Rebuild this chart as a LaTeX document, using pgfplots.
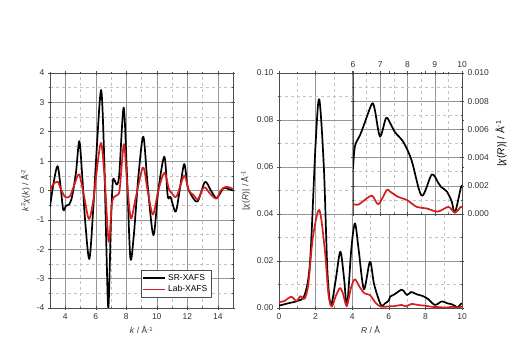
\documentclass[border=0pt]{standalone}
\usepackage{pgfplots}
\pgfplotsset{compat=1.18}
\usepackage{fontspec}
\setmainfont{Liberation Sans}
\definecolor{myred}{RGB}{215,30,30}
\definecolor{gridmaj}{RGB}{150,150,150}
\definecolor{gridmin}{RGB}{195,195,195}
\pgfplotsset{
  myaxis/.style={
    scale only axis,
    /pgf/number format/assume math mode=true,
    tick label style={font=\fontsize{8.5}{10}\selectfont, color=black!80},
    label style={font=\fontsize{8.5}{10}\selectfont, color=black!80},
    grid=both,
    major grid style={gridmaj, line width=0.5pt},
    minor grid style={gridmin, dashed, line width=0.4pt},
    tick align=center,
    major tick length=4pt,
    minor tick length=2.5pt,
    tick style={black!70, line width=0.5pt},
    axis line style={black!70, line width=0.6pt},
  },
  curve/.style={line width=1.7pt, smooth, line join=round},
}
\begin{document}
\begin{tikzpicture}[x=1pt,y=1pt]
\path[use as bounding box] (0,0) rectangle (513,355);
% Left: k-space
\begin{axis}[myaxis,
  at={(50pt,47pt)}, anchor=south west,
  width=183pt, height=235pt,
  xmin=3, xmax=15, ymin=-4, ymax=4,
  xtick={4,6,8,10,12,14}, minor xtick={3,5,7,9,11,13,15},
  ytick={-4,-3,-2,-1,0,1,2,3,4}, minor ytick={-3.5,-2.5,-1.5,-0.5,0.5,1.5,2.5,3.5},
  xlabel={\textit{k} / Å\textsuperscript{-1}},
  ylabel={\textit{k}\textsuperscript{2}\textit{χ}(\textit{k}) / Å\textsuperscript{-2}},
  legend style={at={(0.88,0.047)}, anchor=south east, font=\fontsize{8.5}{10}\selectfont, draw=black!70, inner sep=1.5pt, fill=white},
  legend cell align=left,
]
\addlegendimage{legend image code/.code={\draw[black, line width=1.7pt] (0pt,0pt) -- (22pt,0pt);}}
\addlegendentry{SR-XAFS}
\addlegendimage{legend image code/.code={\draw[draw=myred, line width=1.7pt] (0pt,0pt) -- (22pt,0pt);}}
\addlegendentry{Lab-XAFS}
\addplot[black, curve, forget plot] coordinates {
(3.0,-0.55) (3.25,0.3) (3.5,0.83) (3.7,0.1) (3.87,-0.66) (4.05,-0.52) (4.25,-0.48) (4.45,-0.2) (4.7,0.6) (4.92,1.68) (5.1,0.6) (5.3,-1.0) (5.58,-2.33) (5.85,-0.5) (6.05,1.3) (6.35,3.42) (6.55,1.2) (6.7,-2.0) (6.83,-3.98) (7.0,-1.0) (7.12,0.3) (7.22,0.36) (7.4,0.2) (7.55,0.6) (7.83,2.82) (8.05,0.5) (8.27,-2.3) (8.5,-1.5) (8.8,0.5) (9.12,1.83) (9.4,0.2) (9.78,-1.52) (10.1,0.0) (10.5,1.15) (10.72,-0.2) (10.9,-0.22) (11.24,-0.72) (11.5,0.0) (11.8,0.9) (12.0,0.2) (12.14,-0.04) (12.66,-0.38) (13.16,0.29) (13.55,0.0) (13.93,-0.26) (14.37,0.08) (14.7,0.05) (15.0,0.0)
};
\addplot[color=myred, curve, forget plot] coordinates {
(3.0,0.0) (3.2,0.2) (3.5,0.3) (3.75,0.0) (4.0,-0.22) (4.3,-0.2) (4.6,0.2) (4.9,0.55) (5.2,-0.1) (5.55,-0.97) (5.85,-0.3) (6.05,0.6) (6.35,1.62) (6.6,0.3) (6.85,-1.75) (7.05,-0.5) (7.2,-0.22) (7.5,-0.12) (7.6,0.2) (7.85,1.58) (8.05,0.3) (8.3,-0.95) (8.6,-0.3) (9.1,0.78) (9.4,0.0) (9.75,-0.82) (10.1,0.0) (10.5,0.6) (10.8,0.05) (11.0,-0.1) (11.3,-0.2) (11.8,0.5) (12.1,0.0) (12.4,-0.15) (12.7,-0.3) (13.0,0.05) (13.2,0.1) (13.4,-0.05) (13.9,-0.28) (14.2,0.0) (14.5,0.12) (14.8,0.1) (15.0,0.05)
};
\end{axis}
% Right: R-space
\begin{axis}[myaxis,
  at={(279pt,47pt)}, anchor=south west,
  width=183pt, height=235pt,
  xmin=0, xmax=10, ymin=0, ymax=0.1,
  xtick={0,2,4,6,8,10}, minor xtick={1,3,5,7,9},
  ytick={0,0.02,0.04,0.06,0.08,0.1}, minor ytick={0.01,0.03,0.05,0.07,0.09},
  yticklabel style={/pgf/number format/fixed, /pgf/number format/precision=2, /pgf/number format/fixed zerofill},
  scaled y ticks=false,
  xlabel={\textit{R} / Å},
  ylabel={|\textit{χ}(\textit{R})| / Å\textsuperscript{-1}},
]
\addplot[black, curve] coordinates {
(0,0.001) (0.5,0.002) (1.0,0.003) (1.4,0.0055) (1.7,0.02) (2.0,0.07) (2.2,0.0888) (2.45,0.06) (2.65,0.015) (2.84,0.0013) (3.1,0.012) (3.35,0.024) (3.55,0.013) (3.72,0.001) (3.95,0.025) (4.15,0.036) (4.35,0.025) (4.64,0.008) (4.97,0.0197) (5.2,0.01) (5.57,0.0013) (5.8,0.002) (6.0,0.0032) (6.07,0.0048) (6.26,0.0056) (6.38,0.0062) (6.69,0.0078) (6.8,0.0074) (6.99,0.0055) (7.21,0.0068) (7.35,0.0065) (7.54,0.0058) (7.85,0.0051) (8.15,0.0038) (8.52,0.0013) (8.89,0.0028) (9.13,0.0022) (9.24,0.0019) (9.44,0.0016) (9.62,0.0009) (9.74,0.0001) (9.95,0.0018) (10,0.002)
};
\addplot[myred, curve] coordinates {
(0,0.0025) (0.3,0.003) (0.67,0.0048) (0.95,0.003) (1.17,0.005) (1.4,0.004) (1.6,0.01) (1.85,0.03) (2.2,0.0417) (2.5,0.025) (2.7,0.006) (2.88,0.0006) (3.1,0.005) (3.33,0.0085) (3.5,0.006) (3.7,0.001) (3.95,0.009) (4.15,0.0122) (4.4,0.009) (4.68,0.0062) (4.97,0.0055) (5.3,0.002) (5.6,0.0005) (6.0,0.0007) (6.3,0.0008) (6.69,0.0013) (6.93,0.0007) (7.24,0.0017) (7.67,0.0012) (7.97,0.001) (8.34,0.0005) (8.69,0.0004) (9.11,0.0002) (9.5,0.0005) (9.74,0.0001) (9.95,0.0005) (10,0.0005)
};
\end{axis}
% Inset
\begin{axis}[myaxis,
  at={(353pt,141pt)}, anchor=south west,
  width=109pt, height=141pt,
  axis background/.style={fill=white},
  xmin=6, xmax=10, ymin=0, ymax=0.01,
  xticklabel pos=right, yticklabel pos=right,
  ylabel near ticks,
  xtick={6,7,8,9,10}, minor xtick={6.5,7.5,8.5,9.5},
  ytick={0,0.002,0.004,0.006,0.008,0.01}, minor ytick={0.001,0.003,0.005,0.007,0.009},
  yticklabel style={/pgf/number format/fixed, /pgf/number format/precision=3, /pgf/number format/fixed zerofill},
  scaled y ticks=false,
  ylabel={|\textit{χ}(\textit{R})| / Å\textsuperscript{-1}},
]
\addplot[black, curve] coordinates {
(6.0,0.0032) (6.07,0.0048) (6.26,0.0056) (6.38,0.0062) (6.69,0.0078) (6.8,0.0074) (6.99,0.0055) (7.21,0.0068) (7.35,0.0065) (7.54,0.0058) (7.85,0.0051) (8.15,0.0038) (8.52,0.0013) (8.89,0.0028) (9.13,0.0022) (9.24,0.0019) (9.44,0.0016) (9.62,0.0009) (9.74,0.0001) (9.95,0.0018) (10,0.002)
};
\addplot[myred, curve] coordinates {
(6.0,0.0007) (6.17,0.00065) (6.3,0.0008) (6.69,0.0013) (6.93,0.0007) (7.24,0.0017) (7.35,0.0016) (7.67,0.0012) (7.97,0.001) (8.34,0.0005) (8.69,0.0004) (9.11,0.00017) (9.5,0.0005) (9.74,0.0001) (9.95,0.0005) (10,0.0005)
};
\end{axis}
\end{tikzpicture}
\end{document}
